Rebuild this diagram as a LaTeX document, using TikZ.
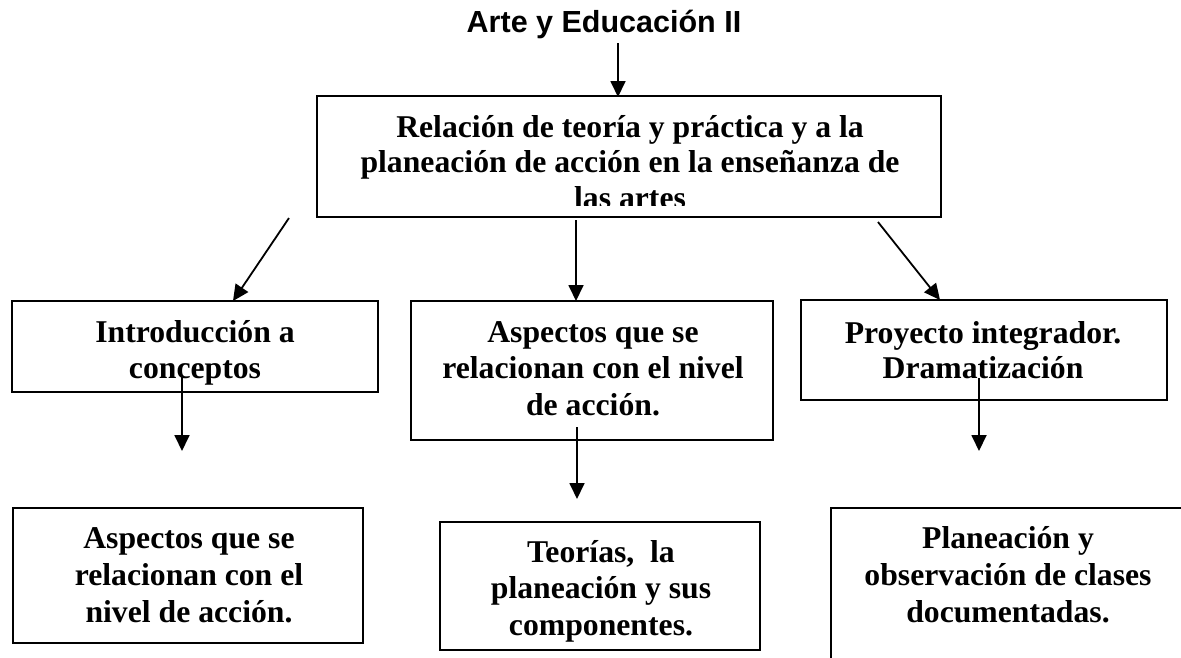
\documentclass[tikz,border=0pt]{standalone}
\usepackage{fontspec}
\setmainfont{Liberation Serif}
\newfontfamily\titlefont{Liberation Sans}
\usetikzlibrary{arrows.meta}
\begin{document}
\begin{tikzpicture}[x=1pt,y=-1pt,
  box/.style={draw=black, line width=1.8pt, inner sep=0pt, rectangle},
  txt/.style={anchor=base, inner sep=0pt, font=\fontsize{31.7}{36}\selectfont\bfseries},
  ttl/.style={anchor=base, inner sep=0pt, font=\titlefont\fontsize{30.5}{36}\selectfont\bfseries},
  arr/.style={line width=1.8pt, -{Triangle[length=16pt,width=15pt]}}]
\useasboundingbox (0,0) rectangle (1181,657);
\clip (0,0) rectangle (1181,657);
\fill[white] (0,0) rectangle (1181,657);

% title
\node[ttl] (title) at (604,32) {Arte y Educación II};

% boxes
\node[box, minimum width=624pt, minimum height=121pt] (main) at (629,156.5) {};
\node[box, minimum width=366pt, minimum height=91pt]  (L2L) at (195,346.5) {};
\node[box, minimum width=362pt, minimum height=139pt] (L2M) at (592,370.5) {};
\node[box, minimum width=366pt, minimum height=100pt] (L2R) at (984,350) {};
\node[box, minimum width=350pt, minimum height=135pt] (BL) at (188,575.5) {};
\node[box, minimum width=320pt, minimum height=128pt] (BM) at (600,586) {};
\node[box, minimum width=364pt, minimum height=172pt] (BR) at (1013,594) {};

% main box text
\node[txt] (m1) at (630,137) {Relación de teoría y práctica y a la};
\node[txt] (m2) at (630,172) {planeación de acción en la enseñanza de};
\begin{scope}
  \clip (317,96) rectangle (941,205);
  \node[txt] (m3) at (630,208) {las artes};
\end{scope}

% level 2 texts
\node[txt] (l1) at (195,342) {Introducción a};
\node[txt] (l2) at (195,378) {conceptos};
\node[txt] (c1) at (593,342) {Aspectos que se};
\node[txt] (c2) at (593,378) {relacionan con el nivel};
\node[txt] (c3) at (593,415) {de acción.};
\node[txt] (r1) at (983,343) {Proyecto integrador.};
\node[txt] (r2) at (983,378) {Dramatización};

% bottom texts
\node[txt] (bl1) at (189,548) {Aspectos que se};
\node[txt] (bl2) at (189,585) {relacionan con el};
\node[txt] (bl3) at (189,622) {nivel de acción.};
\node[txt] (bm1) at (601,562) {Teorías,\ \ la};
\node[txt] (bm2) at (601,598) {planeación y sus};
\node[txt] (bm3) at (601,635) {componentes.};
\node[txt] (br1) at (1008,548) {Planeación y};
\node[txt] (br2) at (1008,585) {observación de clases};
\node[txt] (br3) at (1008,622) {documentadas.};

% connector end points
\coordinate (s0) at (618,43);   \coordinate (e0) at (618,97);
\coordinate (s1) at (289,218);  \coordinate (e1) at (233,301);
\coordinate (s2) at (576,220);  \coordinate (e2) at (576,301);
\coordinate (s3) at (878,222);  \coordinate (e3) at (940,300);
\coordinate (s4) at (182,377);  \coordinate (e4) at (182,451);
\coordinate (s5) at (577,427);  \coordinate (e5) at (577,499);
\coordinate (s6) at (979,378);  \coordinate (e6) at (979,451);

\draw[arr] (s0) -- (e0);
\draw[arr] (s1) -- (e1);
\draw[arr] (s2) -- (e2);
\draw[arr] (s3) -- (e3);
\draw[arr] (s4) -- (e4);
\draw[arr] (s5) -- (e5);
\draw[arr] (s6) -- (e6);
\end{tikzpicture}
\end{document}
